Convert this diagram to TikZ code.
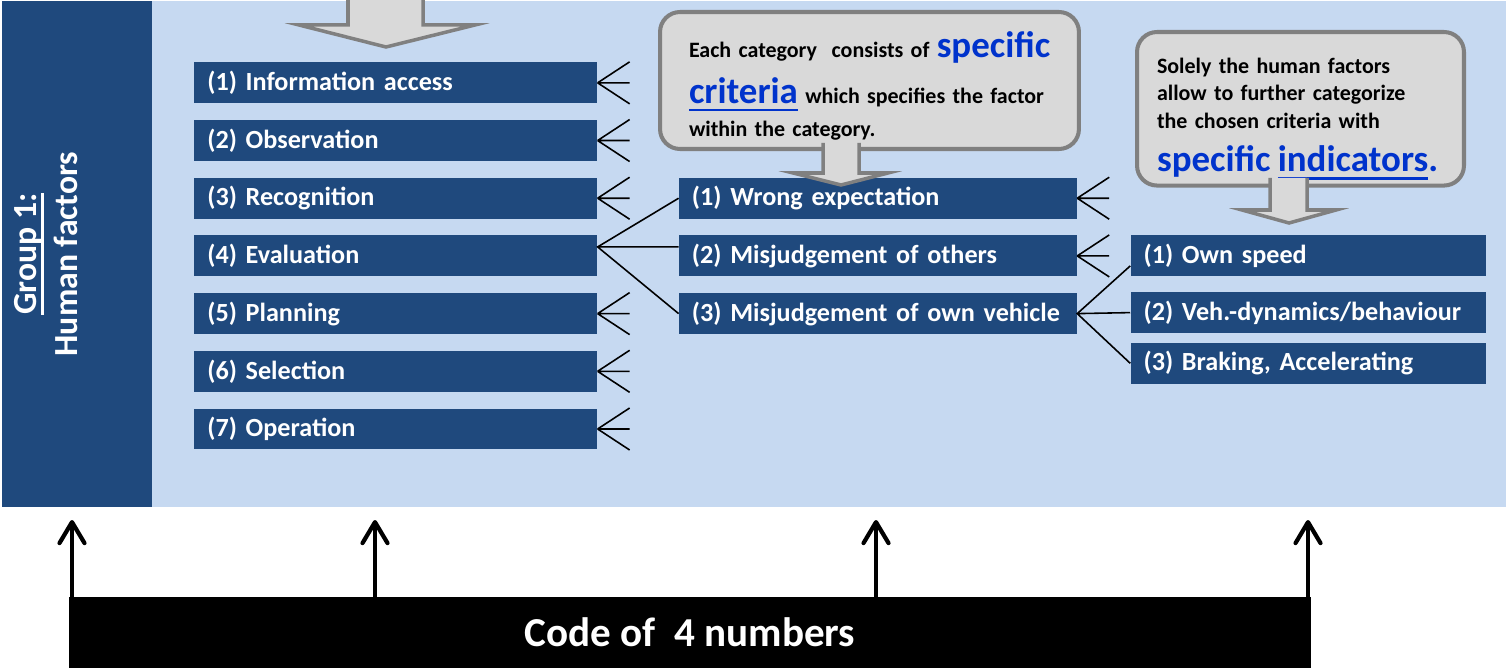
\documentclass[tikz,border=0pt]{standalone}
\usepackage{fontspec}
\setmainfont{Carlito}
\usepackage{xcolor}
\usetikzlibrary{arrows.meta, positioning}

\definecolor{hfblue}{RGB}{31,73,125}
\definecolor{hfback}{RGB}{198,217,241}
\definecolor{notefill}{RGB}{217,217,217}
\definecolor{noteline}{RGB}{128,128,128}
\definecolor{keyblue}{RGB}{0,51,204}

% thick rule under a word
\newcommand{\underlined}[1]{\leavevmode\setbox0=\hbox{#1}\rlap{\rule[-0.22em]{\wd0}{0.075em}}\box0}
% large blue key word inside a note
\newcommand{\keyword}[1]{{\fontsize{21}{25}\selectfont\color{keyblue}#1}}

\begin{document}
\begin{tikzpicture}[
    x=0.02cm, y=-0.02cm,
    node distance=0.32cm and 1.62cm,
    factor/.style={rectangle, fill=hfblue, text=white, inner xsep=0.26cm, inner ysep=0pt, text width=7.54cm, minimum height=0.82cm, align=left, font=\bfseries\fontsize{14.9}{18}\selectfont},
    criterion/.style={factor, text width=7.44cm},
    indicator/.style={factor, text width=6.58cm},
    note/.style={rectangle, rounded corners=0.4cm, draw=noteline, line width=2.3pt, fill=notefill, align=left, font=\bfseries\fontsize{12.5}{15.8}\selectfont},
    foot/.style={line width=0.9pt},
    link/.style={line width=0.9pt},
    blockarrow/.style={draw=noteline, fill=notefill, line width=2pt},
    digitarrow/.style={-{Straight Barb[length=0.42cm, width=0.5cm, round, line width=2.4pt]}, line width=2pt},
]
\useasboundingbox (0,0) rectangle (1506,671);

% background and group band
\fill[hfback] (2,1) rectangle (1506,507);
\fill[hfblue] (2,1) rectangle (152,507);
\node[rotate=90, text=white, align=center, font=\bfseries\fontsize{19.2}{23.3}\selectfont] (group) at (46,254) {\underlined{Group 1:}\\Human factors};

\draw[blockarrow] (348,-4) -- (348,25) -- (299,25) -- (386,47) -- (475,25) -- (423,25) -- (423,-4);

% categories
\node[factor, anchor=north west] (info) at (194,62) {(1) Information access};
\node[factor, below=of info] (obs) {(2) Observation};
\node[factor, below=of obs] (rec) {(3) Recognition};
\node[factor, below=of rec] (eval) {(4) Evaluation};
\node[factor, below=of eval] (plan) {(5) Planning};
\node[factor, below=of plan] (sel) {(6) Selection};
\node[factor, below=of sel] (oper) {(7) Operation};

% criteria
\node[criterion, right=of rec] (wrong) {(1) Wrong expectation};
\node[criterion, below=of wrong] (others) {(2) Misjudgement of others};
\node[criterion, below=of others] (ownveh) {(3) Misjudgement of own vehicle};

% indicators
\node[indicator, right=1.06cm of others] (speed) {(1) Own speed};
\node[indicator, below=0.3cm of speed] (veh) {(2) Veh.-dynamics/behaviour};
\node[indicator, below=0.18cm of veh] (brake) {(3) Braking, Accelerating};

\foreach \n in {info,obs,rec,plan,sel,oper,wrong,others}
    \draw[foot] (\n.east) -- ++(32,-21) (\n.east) -- ++(32,0) (\n.east) -- ++(32,21);

\coordinate (judge) at ([yshift=0.18cm]eval.east);
\draw[link] (wrong.west) -- (judge) -- (ownveh.west) (judge) -- (judge -| others.west);
\draw[link] ([yshift=-0.2cm]speed.west) -- (ownveh.east) -- (brake.west) (ownveh.east) -- (veh.west);

% notes
\node[note, anchor=north west, minimum width=8.38cm, minimum height=2.74cm, text width=7.22cm, inner xsep=0.58cm] (critnote) at (658,10)
    {\mbox{\rule{0pt}{21pt}Each category\ \ consists of \keyword{specific}}\\[6.9pt]\mbox{\keyword{\underlined{criteria}} which specifies the factor}\\[3pt]within the category.};
\node[note, anchor=north west, minimum width=6.54cm, minimum height=3.04cm, text width=5.74cm, inner xsep=0.4cm] (indnote) at (1135,30)
    {\rule{0pt}{20pt}Solely the human factors\\allow to further categorize\\the chosen criteria with\\[8.7pt]\mbox{\keyword{specific \underlined{indicators}.}}};

\draw[blockarrow] (823,143) -- (823,173) -- (793,173) -- (841,185) -- (888,173) -- (859,173) -- (859,143);
\draw[blockarrow] (1270,178) -- (1270,210) -- (1242,210) -- (1289,223) -- (1336,210) -- (1307,210) -- (1307,178);

% code bar
\node[fill=black, text=white, minimum width=24.84cm, minimum height=1.42cm, font=\bfseries\fontsize{23.4}{28}\selectfont] (code) at (690,632.5) {Code of\ \ 4 numbers};
\foreach \x [count=\i] in {72,375,876,1308} {
    \coordinate (digit\i) at (\x,520);
    \draw[digitarrow] (digit\i |- code.north) -- (digit\i);
}
\end{tikzpicture}
\end{document}
